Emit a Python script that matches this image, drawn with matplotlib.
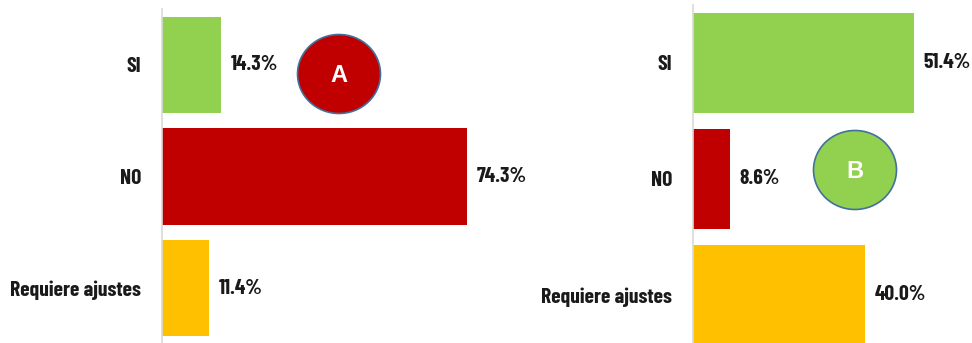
import matplotlib
matplotlib.use("Agg")
import matplotlib.pyplot as plt
from matplotlib.patches import Ellipse

# survey answers, two groups
categories = ["SI", "NO", "Requiere ajustes"]
values_a = [14.3, 74.3, 11.4]
values_b = [51.4, 8.6, 40.0]
bar_colors = ["#92D050", "#C00000", "#FFC000"]

W, H = 972, 343
DPI = 100
FONT = ["Barlow Condensed", "DejaVu Sans"]


def px_box(x0, y_top, width, height):
    # pixel box (top-left origin) -> figure fraction rect
    return [x0 / W, (H - y_top - height) / H, width / W, height / H]


def draw_bars(ax, values, xmax):
    ypos = list(range(len(categories)))
    ax.barh(ypos, values, height=0.86, color=bar_colors)
    ax.set_xlim(0, xmax)
    ax.set_ylim(len(categories) - 0.5, -0.5)
    ax.set_yticks(ypos)
    ax.set_yticklabels(categories, fontsize=15.5, fontweight="bold",
                       family=FONT, color="#1a1a1a")
    ax.tick_params(axis="y", length=0, pad=15)
    ax.set_xticks([])
    for s in ["top", "right", "bottom"]:
        ax.spines[s].set_visible(False)
    ax.spines["left"].set_color("#d9d9d9")
    ax.spines["left"].set_linewidth(1.2)
    for y, v in zip(ypos, values):
        ax.annotate(f"{v:.1f}%", (v, y), xytext=(7, 0), textcoords="offset points",
                    va="center", ha="left", fontsize=15.5, fontweight="bold",
                    family=FONT, color="#1a1a1a")
    ax.patch.set_alpha(0)


fig = plt.figure(figsize=(W / DPI, H / DPI), dpi=DPI)

# left chart: 1% ~ 4.1 px
ax1 = fig.add_axes(px_box(162, 9, 80 * 4.1, 335))
draw_bars(ax1, values_a, 80)

# right chart: 1% ~ 4.3 px
ax2 = fig.add_axes(px_box(693, 5, 60 * 4.3, 348))
draw_bars(ax2, values_b, 60)

# overlay in pixel coordinates for the badges
ov = fig.add_axes([0, 0, 1, 1])
ov.set_xlim(0, W)
ov.set_ylim(H, 0)
ov.axis("off")
ov.patch.set_alpha(0)

badges = [("A", 339, 74, "#C00000"), ("B", 855, 170, "#92D050")]
for letter, cx, cy, col in badges:
    ov.add_patch(Ellipse((cx, cy), 83, 79, facecolor=col,
                         edgecolor="#41719C", linewidth=1.2))
    ov.text(cx, cy + 1, letter, ha="center", va="center", color="white",
            fontsize=17, fontweight="bold", family=["Liberation Sans", "DejaVu Sans"])

fig.savefig("out.png", dpi=DPI)
